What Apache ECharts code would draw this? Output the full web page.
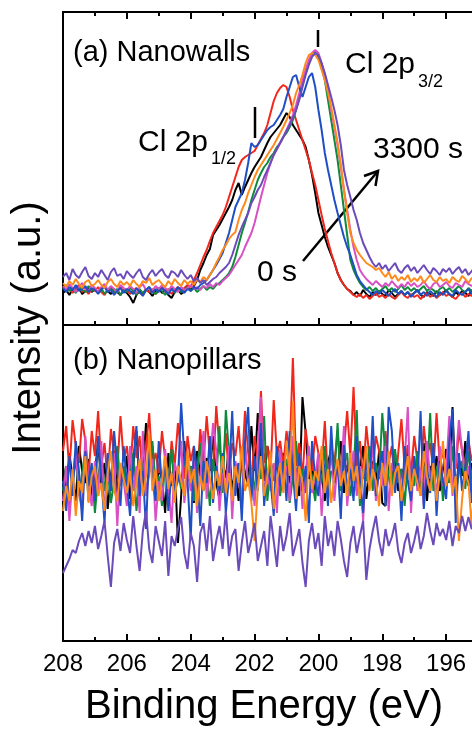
<!DOCTYPE html>
<html><head><meta charset="utf-8">
<script src="https://cdn.jsdelivr.net/npm/echarts@6/dist/echarts.min.js"></script>
<style>html,body{margin:0;padding:0;background:#fff}#c{width:472px;height:730px}</style>
</head><body><div id="c"></div>
<script>
// Binding-energy scan: 208.0 eV down to 195.0 eV, 0.1 eV step
const ENERGY_START = 208;
const ENERGY_STEP = 0.1;
const N_POINTS = 131;
const xTickLabels = [208, 206, 204, 202, 200, 198, 196];
const seriesColors = ['#000000', '#f2271c', '#0f8a3c', '#d94fc4', '#1f4fc4', '#ff8a1c', '#6b4bba'];
const seriesNames = ['0 s (black)', 'red', 'green', 'magenta', 'blue', 'orange', '3300 s (purple)'];

// (a) Nanowalls, intensity (a.u.)
const aBlack = [32,35,30,36,33,38,31,34,37,33, 36,32,35,39,34,31,36,33,30,35, 32,28,22,30,34,31,36,33,29,34, 37,32,35,30,27,33,36,31,34,38,
 35,39,45,55,62,70,76,90,95,100, 106,112,118,125,135,142,130,138,145,152, 158,163,168,175,182,188,192,196,200,206,
 212,208,200,195,190,185,178,165,150,132, 112,100,88,78,70,62,52,45,40,36, 34,30,33,29,35,31,28,33,30,34,
 31,29,35,32,28,31,34,30,33,29, 32,35,30,28,33,31,29,34,30,32, 35,31,28,33,30,34,32,29,35,31,33];
const aRed = [38,34,36,32,37,40,33,35,31,36, 34,38,33,30,35,37,32,34,38,33, 35,31,34,37,32,30,35,33,36,31, 34,38,33,36,31,35,38,34,37,40,
 38,45,52,60,68,75,84,92,98,104, 110,118,128,138,148,158,165,168,170,172, 174,180,186,192,200,212,224,232,237,240,
 238,228,215,205,195,185,175,165,152,140, 125,110,96,84,72,62,52,45,40,36, 33,30,28,31,27,30,26,29,32,28,
 30,27,31,28,26,30,33,29,27,31, 28,30,26,29,32,28,31,27,30,33, 29,31,28,26,30,32,28,31,29,33,30];
const aGreen = [36,40,34,37,32,38,35,33,39,34, 36,33,37,31,35,38,33,36,30,35, 33,37,34,30,36,32,35,38,33,31, 36,34,30,35,37,32,36,33,35,38,
 34,37,33,36,39,35,38,36,40,42, 45,48,52,58,68,80,92,102,113,125, 135,145,152,158,162,168,172,178,182,188,
 192,198,205,215,228,240,252,262,270,273, 268,258,245,225,205,185,165,140,115,90, 65,55,48,42,38,35,38,34,37,33,
 36,39,34,37,33,36,40,35,38,34, 37,33,36,39,34,37,35,32,36,38, 34,37,33,36,39,35,33,37,34,36,38];
const aMagenta = [39,35,41,37,33,38,42,36,34,40, 37,33,38,41,35,39,36,33,40,37, 35,39,36,32,38,41,35,37,34,39, 36,40,37,34,39,36,33,38,35,37,
 40,36,38,35,39,37,41,38,42,40, 44,47,50,55,60,65,70,78,85,92, 102,115,128,140,152,162,170,176,182,188,
 195,202,210,220,232,245,256,265,272,275, 272,262,250,235,215,198,180,158,135,115, 95,78,65,55,50,46,43,40,44,41,
 38,42,39,44,40,37,41,38,43,39, 42,38,40,44,39,36,41,43,38,40, 43,39,37,42,40,38,44,41,39,42,40];
const aBlue = [37,33,38,35,40,34,36,39,33,37, 35,31,36,38,33,35,30,34,37,32, 36,34,31,37,33,29,35,38,32,36, 33,37,34,31,36,33,38,35,32,36,
 34,38,36,40,42,45,50,55,60,66, 72,82,92,105,118,125,132,145,162,182, 178,180,185,190,195,198,200,205,210,216,
 228,238,248,250,238,228,238,248,252,238, 215,195,172,155,140,125,112,100,88,78, 70,60,50,44,40,36,33,30,34,31,
 35,32,29,33,36,31,34,30,33,28, 32,35,30,33,29,34,31,28,33,30, 34,31,29,35,32,30,33,36,31,34,32];
const aOrange = [42,38,44,40,46,41,37,43,45,39, 41,45,40,37,43,46,41,38,44,40, 43,39,45,41,38,44,42,47,40,43, 45,41,38,44,40,46,42,39,45,41,
 44,40,46,43,48,45,50,55,62,68, 75,80,86,90,93,105,115,122,132,140, 148,155,160,165,170,175,180,186,192,198,
 205,212,220,232,240,250,262,270,272,270, 265,255,245,232,218,200,182,160,135,112, 92,82,75,70,66,62,60,58,55,57,
 52,48,53,46,50,44,48,45,50,43, 47,44,49,42,46,50,45,43,48,44, 46,42,48,45,43,49,46,42,47,44,46];
const aPurple = [48,52,45,56,50,47,53,58,49,46, 52,48,55,50,45,53,57,49,51,46, 54,50,47,52,56,48,45,51,55,49, 53,56,50,47,54,52,48,55,50,46,
 50,44,47,42,45,40,43,46,48,52, 55,58,62,70,80,90,98,105,112,122, 128,135,140,148,155,162,170,176,182,188,
 194,200,207,215,225,238,250,260,268,272, 270,262,252,240,228,215,200,180,155,140, 128,115,105,92,82,75,68,62,58,62,
 56,60,54,58,62,55,52,57,60,54, 58,52,56,60,55,51,57,54,50,56, 53,57,51,55,58,52,56,50,54,57,53];

// (b) Nanopillars, intensity (a.u.)
const bBlack = [175,150,188,162,140,195,170,158,182,145, 168,200,155,178,132,165,190,148,172,160, 185,142,175,210,158,168,218,180,195,150,
 172,162,128,188,155,178,98,145,200,160, 175,138,190,165,152,183,170,205,158,142, 178,163,195,150,172,140,188,168,155,215,
 170,228,182,160,195,180,165,178,150,188, 172,158,195,168,145,244,208,162,175,150, 185,165,140,178,192,158,170,200,148,176,
 162,185,150,172,195,142,168,180,155,190, 138,135,178,160,188,150,172,162,195,145, 180,168,155,198,140,175,160,185,150,172,
 192,158,234,145,182,165,200,155,178,162,170];
const bRed = [190,215,170,221,195,178,222,200,165,210, 185,230,175,198,160,212,188,170,225,180, 195,165,215,183,205,158,192,228,175,188,
 168,210,182,150,200,176,218,190,162,205, 180,195,160,212,178,225,185,170,235,192, 175,208,162,198,185,215,170,230,188,160,
 205,182,250,178,195,168,241,185,200,175, 210,190,283,175,198,165,212,185,170,205, 188,172,220,160,195,178,210,168,192,230,
 185,254,175,200,162,215,183,170,205,190, 165,210,178,195,150,188,222,172,196,168, 205,180,160,215,185,198,170,228,176,190,
 162,205,185,172,210,190,168,200,180,195,175];
const bGreen = [150,175,135,160,182,145,168,190,140,172, 128,165,185,150,172,138,160,195,155,175, 142,168,188,130,162,178,148,170,200,155,
 165,135,180,158,192,145,170,152,185,162, 175,140,168,198,150,172,135,182,160,215, 148,231,188,140,165,178,132,195,158,172,
 150,185,162,225,140,175,160,190,145,170, 182,138,165,200,155,172,148,185,162,140, 178,158,195,142,170,165,218,150,175,188,
 145,168,231,135,172,160,195,150,178,162, 228,185,165,150,192,158,172,135,180,168, 155,190,145,175,162,228,150,170,185,140,
 172,158,195,148,168,180,152,190,162,145,175];
const bMagenta = [140,175,120,165,190,148,130,205,158,135, 180,145,200,125,168,152,188,115,172,160, 135,195,150,175,128,210,145,168,182,120,
 160,140,192,155,118,178,165,200,138,172, 150,185,128,165,210,142,175,218,190,130, 168,148,195,122,180,160,140,200,155,172,
 135,188,244,145,170,150,178,128,192,160, 175,140,205,158,185,132,170,195,148,165, 188,125,172,155,200,140,178,162,215,135,
 168,190,145,175,120,185,158,200,140,172, 155,195,130,178,165,178,145,180,234,128, 185,150,172,135,200,162,178,142,195,155,
 170,225,145,180,221,190,160,175,148,185,162];
const bBlue = [160,130,185,145,200,170,120,190,155,178, 140,205,162,118,188,150,210,172,135,195, 158,125,180,215,145,170,112,192,165,140,
 200,155,180,130,168,150,160,238,185,160, 101,195,170,115,180,158,205,138,175,150, 188,128,165,230,145,178,120,200,234,140,
 185,150,218,135,172,160,125,195,155,180, 140,210,168,130,188,150,175,118,200,162, 145,192,170,135,215,158,180,122,196,150,
 172,140,205,160,128,185,155,225,145,170, 190,135,234,210,148,178,120,195,160,140, 185,155,230,132,170,148,198,125,180,160,
 142,200,232,118,188,150,175,210,138,168,155];
const bOrange = [130,155,140,172,125,160,148,185,138,165, 175,145,158,130,168,190,150,140,178,162, 148,170,135,158,182,145,165,208,150,172,
 140,160,185,152,168,138,175,160,145,190, 158,172,135,165,150,180,162,142,170,155, 185,148,168,140,175,158,195,150,162,138,
 100,152,185,145,165,190,132,160,178,148, 200,165,240,142,175,158,120,185,152,170, 160,195,148,172,138,165,182,155,170,145,
 188,160,175,142,168,195,150,172,160,135, 178,155,190,145,168,175,140,162,185,150, 172,158,145,190,165,150,178,140,168,200,
 155,172,148,165,100,142,170,158,115,162,150];
const bPurple = [68,75,82,91,88,100,108,95,110,98, 115,92,105,120,85,54,98,112,90,118, 101,88,125,95,70,110,130,92,78,115,
 100,85,120,65,105,95,112,124,88,72, 108,95,59,108,118,90,125,80,100,115, 92,130,85,105,112,70,98,120,88,102,
 118,80,95,110,75,125,100,74,115,90, 105,128,85,98,112,78,54,100,118,92, 108,75,125,95,110,85,120,102,80,64,
 98,115,88,105,120,61,92,110,125,100, 85,112,95,104,118,90,78,98,108,88, 100,115,92,105,128,110,96,118,105,112,
 101,120,95,115,108,125,110,124,112,118,105];

const energy = [];
for (let i = 0; i < N_POINTS; i++) energy.push(+(ENERGY_START - i * ENERGY_STEP).toFixed(1));
const pair = v => v.map((y, i) => [energy[i], y]);

const panelA = [aBlack, aRed, aGreen, aMagenta, aBlue, aOrange, aPurple];
const panelB = [bBlack, bRed, bGreen, bMagenta, bBlue, bOrange, bPurple];

const FONT = '"Liberation Sans", Arial, Helvetica, sans-serif';
const chart = echarts.init(document.getElementById('c'), null, {renderer: 'canvas'});

function xAx(grid, pos, labels) {
  return {
    type: 'value', gridIndex: grid, position: pos, min: 194, max: 208, interval: 2, inverse: true,
    axisLine: {show: true, onZero: false, lineStyle: {color: '#000', width: 2}},
    axisTick: {show: true, inside: true, length: 7, lineStyle: {color: '#000', width: 2}},
    minorTick: {show: true, splitNumber: 2, length: 4, lineStyle: {color: '#000', width: 2}},
    axisLabel: {show: labels, margin: 11, color: '#000', fontSize: 24, fontFamily: FONT,
      formatter: v => xTickLabels.includes(v) ? String(v) : ''},
    splitLine: {show: false}, minorSplitLine: {show: false}
  };
}

const series = [];
panelA.forEach((d, k) => series.push({
  type: 'line', xAxisIndex: 0, yAxisIndex: 0, data: pair(d), name: seriesNames[k],
  symbol: 'none', lineStyle: {color: seriesColors[k], width: 2}, itemStyle: {color: seriesColors[k]}, silent: true
}));
panelB.forEach((d, k) => series.push({
  type: 'line', xAxisIndex: 2, yAxisIndex: 1, data: pair(d), name: seriesNames[k],
  symbol: 'none', lineStyle: {color: seriesColors[k], width: 2}, itemStyle: {color: seriesColors[k]}, silent: true
}));

const txt = (text, x, y, size, extra) => Object.assign({
  type: 'text', x: x, y: y, silent: true,
  style: {text: text, font: size + 'px ' + FONT, fill: '#000', verticalAlign: 'middle', align: 'left'}
}, extra || {});

chart.setOption({
  animation: false,
  backgroundColor: '#fff',
  grid: [
    {left: 63, top: 12, width: 447, height: 313, show: true, borderColor: '#000', borderWidth: 2, backgroundColor: 'transparent', outerBoundsMode: 'none', containLabel: false},
    {left: 63, top: 325, width: 447, height: 316, show: true, borderColor: '#000', borderWidth: 2, backgroundColor: 'transparent', outerBoundsMode: 'none', containLabel: false}
  ],
  xAxis: [xAx(0, 'bottom', false), xAx(0, 'top', false), xAx(1, 'bottom', true)],
  yAxis: [
    {type: 'value', gridIndex: 0, min: 0, max: 313, show: false},
    {type: 'value', gridIndex: 1, min: 0, max: 316, show: false}
  ],
  series: series,
  graphic: [
    txt('(a) Nanowalls', 73, 53, 29),
    txt('(b) Nanopillars', 73, 361, 29),
    txt('Cl 2p', 345, 65, 30),
    txt('3/2', 418, 82, 18),
    txt('Cl 2p', 138, 143, 30),
    txt('1/2', 211, 159, 18),
    txt('3300 s', 373, 150, 30),
    txt('0 s', 257, 273, 30),
    {type: 'line', silent: true, shape: {x1: 318, y1: 30, x2: 318, y2: 47}, style: {stroke: '#000', lineWidth: 2.5}},
    {type: 'line', silent: true, shape: {x1: 255, y1: 107, x2: 255, y2: 138}, style: {stroke: '#000', lineWidth: 2.5}},
    {type: 'line', silent: true, shape: {x1: 303, y1: 261, x2: 378, y2: 171}, style: {stroke: '#000', lineWidth: 2.5}},
    {type: 'polyline', silent: true, shape: {points: [[364, 176], [378, 171], [375.5, 186]]}, style: {stroke: '#000', lineWidth: 2.5, fill: null}},
    {type: 'text', silent: true, x: 29, y: 328, rotation: Math.PI / 2,
      style: {text: 'Intensity (a.u.)', font: '40px ' + FONT, fill: '#000', align: 'center', verticalAlign: 'middle'}},
    {type: 'text', silent: true, x: 264, y: 707,
      style: {text: 'Binding Energy (eV)', font: '40px ' + FONT, fill: '#000', align: 'center', verticalAlign: 'middle'}}
  ]
});
</script></body></html>
